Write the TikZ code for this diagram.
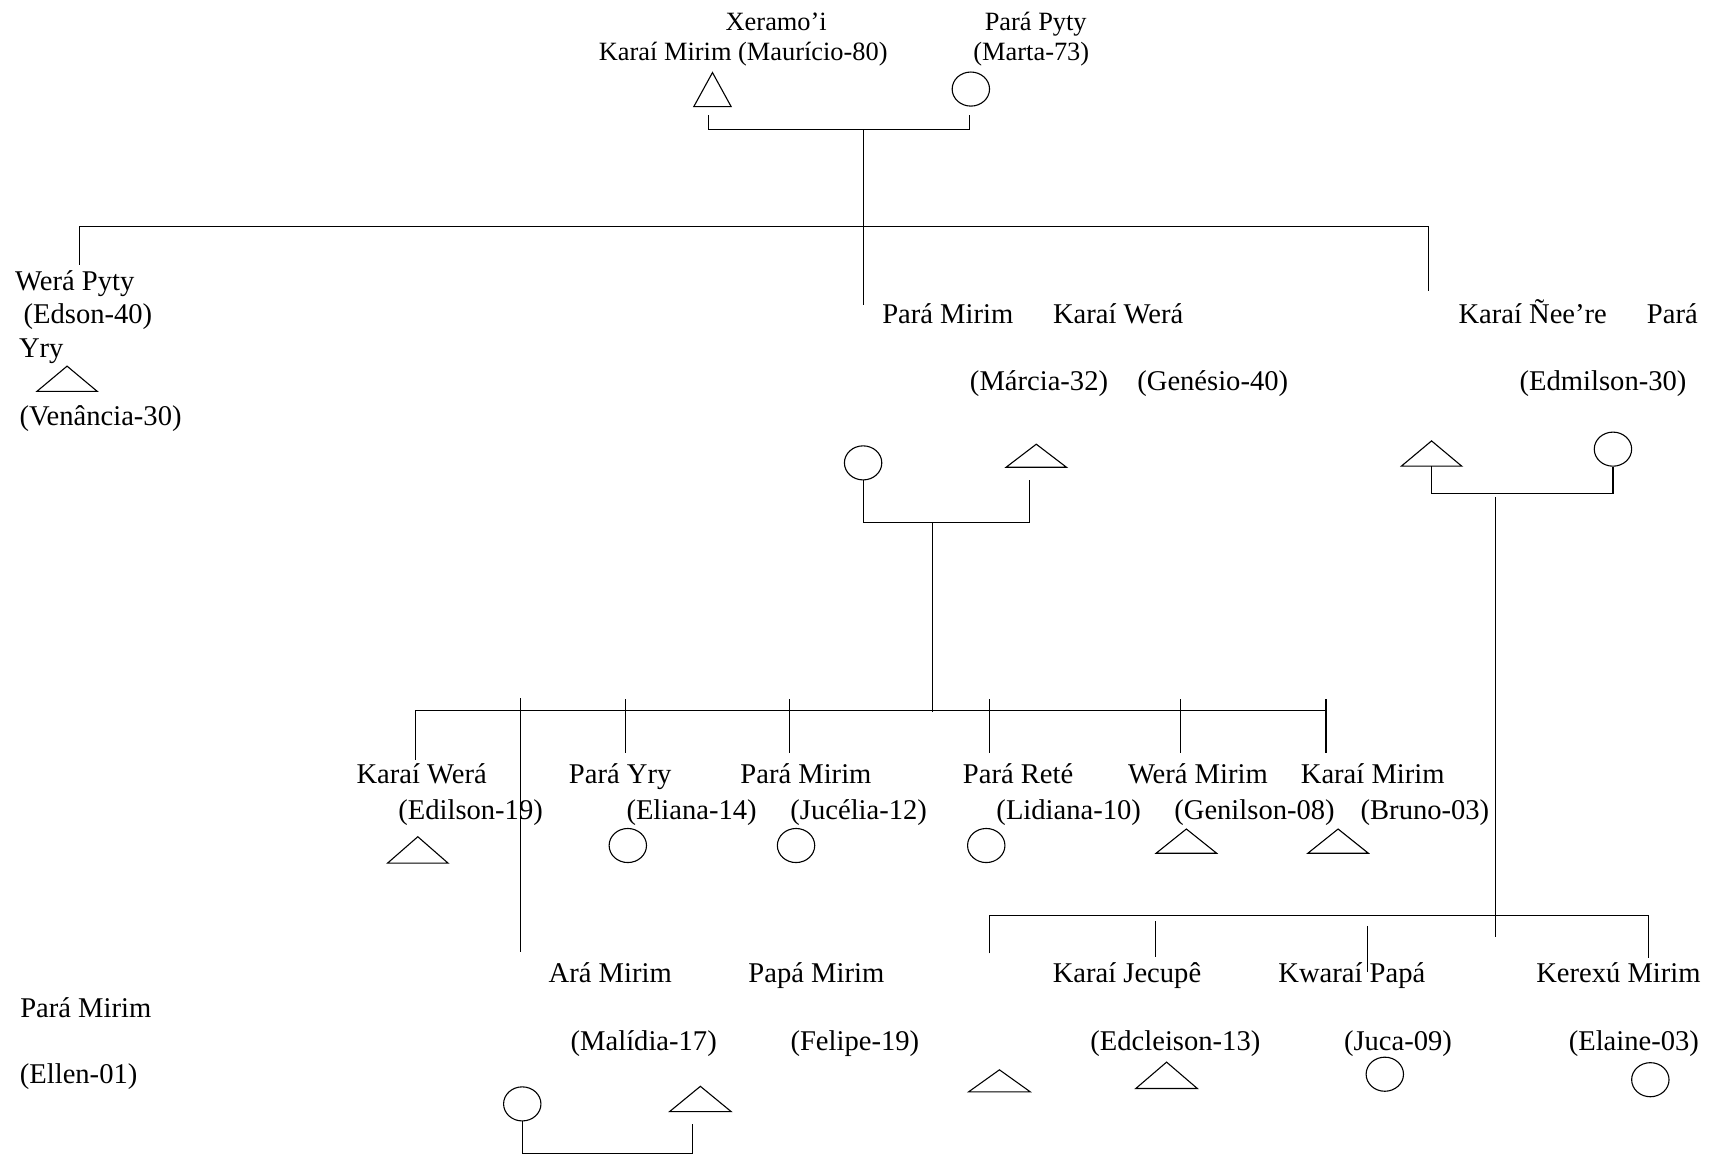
\documentclass[tikz,border=0pt]{standalone}
\usepackage{fontspec}
\setmainfont{Liberation Serif}
\usetikzlibrary{shapes.geometric,calc}
\newcommand\kintri[5]{%
  \node[inner sep=0pt, outer sep=0pt, minimum width=#4pt, minimum height=#5pt, anchor=south] (#1) at (#2,#3) {};
  \draw[line join=miter] (#1.south west) -- (#1.north) -- (#1.south east) -- cycle;}
\begin{document}
\begin{tikzpicture}[x=1pt,y=-1pt, line width=1pt,
  lbl/.style={anchor=base, inner sep=0pt, font=\fontsize{26pt}{30pt}\selectfont},
  lbltop/.style={anchor=base, inner sep=0pt, font=\fontsize{24pt}{28pt}\selectfont},
  fem/.style={draw, ellipse, inner sep=0pt, minimum width=34pt, minimum height=31pt}]
\useasboundingbox (0,0) rectangle (1568,1050);

% ---------- generation 1 ----------
\node[lbltop] (xer) at (706,28) {Xeramo’i};
\node[lbltop] (km) at (676,55) {Karaí Mirim (Maurício-80)};
\node[lbltop] (pp) at (942,28) {Pará Pyty};
\node[lbltop] (marta) at (938,55) {(Marta-73)};
\kintri{gf}{648}{97}{34}{31}
\node[fem] (gm) at (883,81) {};
\coordinate (gfb) at (644,105);
\coordinate (gmb) at (882,105);
\coordinate (j0) at (785,118);
\coordinate (d0) at (785,277);
\draw (gfb) |- (j0) -| (gmb);
\draw (j0) -- (d0);
\coordinate (s0a) at (72,241);
\coordinate (s0m) at (785,206);
\coordinate (s0b) at (1299,265);
\draw (s0a) |- (s0m) -| (s0b);

% ---------- left: Wera Pyty ----------
\node[lbl] (wp) at (68,264) {Werá Pyty};
\node[lbl] (edson) at (80,294) {(Edson-40)};
\node[lbl] (yry) at (37.5,325) {Yry};
\kintri{ven}{61}{356}{55}{23}
\node[lbl] (venancia) at (91.5,387) {(Venância-30)};

% ---------- middle: Para Mirim & Karai Wera ----------
\node[lbl] (pmn) at (862,294) {Pará Mirim};
\node[lbl] (kwn) at (1017,294) {Karaí Werá};
\node[lbl] (marcia) at (945,355) {(Márcia-32)};
\node[lbl] (genesio) at (1103,355) {(Genésio-40)};
\node[fem] (pm) at (785,421) {};
\kintri{kw}{942.5}{425}{55}{21}
\coordinate (kwb) at (936,437);
\coordinate (j1) at (848,475);
\coordinate (s1m) at (848,648);
\draw (pm.south) |- (j1) -| (kwb);
\draw (j1) -- (s1m);

% ---------- right: Karai Nee're & Para ----------
\node[lbl] (kne) at (1394,294) {Karaí Ñee’re};
\node[lbl] (parn) at (1521,294) {Pará};
\node[lbl] (edmilson) at (1458,355) {(Edmilson-30)};
\kintri{rt}{1302}{424}{55}{23}
\node[fem] (rc) at (1467,408.5) {};
\coordinate (j2) at (1381,449);
\coordinate (j2d) at (1360,452);
\coordinate (s2m) at (1360,852);
\draw (rt.south) |- (j2) -| (rc.south);
\draw (j2d) -- (s2m);

% ---------- generation 3: children of Para Mirim ----------
\coordinate (r3a) at (378,691);
\coordinate (r3b) at (1206,646);
\draw (r3a) |- (r3b);
\coordinate (ara1) at (473,635); \coordinate (ara2) at (473,866);
\draw (ara1) -- (ara2);
\coordinate (t1a) at (569,636);  \coordinate (t1b) at (569,685);
\coordinate (t2a) at (718,636);  \coordinate (t2b) at (718,685);
\coordinate (t3a) at (900,636);  \coordinate (t3b) at (900,685);
\coordinate (t4a) at (1074,636); \coordinate (t4b) at (1074,685);
\coordinate (t5a) at (1206,636); \coordinate (t5b) at (1206,685);
\draw (t1a) -- (t1b);
\draw (t2a) -- (t2b);
\draw (t3a) -- (t3b);
\draw (t4a) -- (t4b);
\draw (t5a) -- (t5b);

\node[lbl] (kw3) at (383.5,713) {Karaí Werá};
\node[lbl] (edilson) at (428,745) {(Edilson-19)};
\node[lbl] (pyry) at (564,713) {Pará Yry};
\node[lbl] (eliana) at (629,745) {(Eliana-14)};
\node[lbl] (pm3) at (733,713) {Pará Mirim};
\node[lbl] (jucelia) at (781,745) {(Jucélia-12)};
\node[lbl] (prete) at (926,713) {Pará Reté};
\node[lbl] (lidiana) at (972,745) {(Lidiana-10)};
\node[lbl] (wm3) at (1089.5,713) {Werá Mirim};
\node[lbl] (genilson) at (1141,745) {(Genilson-08)};
\node[lbl] (km3) at (1248.5,713) {Karaí Mirim};
\node[lbl] (bruno) at (1296,745) {(Bruno-03)};

\kintri{edil}{380}{785}{55}{24}
\node[fem] (eli) at (571,769) {};
\node[fem] (juc) at (724,769) {};
\node[fem] (lid) at (897,769) {};
\kintri{gen}{1079}{776}{55}{22}
\kintri{bru}{1217}{776}{55}{22}

% ---------- generation 3: children of Karai Nee're ----------
\coordinate (r4a) at (900,867);
\coordinate (r4m) at (1360,833);
\coordinate (r4b) at (1499,871);
\draw (r4a) |- (r4m) -| (r4b);
\coordinate (u1a) at (1051,838); \coordinate (u1b) at (1051,870);
\coordinate (u2a) at (1244,842); \coordinate (u2b) at (1244,884);
\draw (u1a) -- (u1b);
\draw (u2a) -- (u2b);

\node[lbl] (kj) at (1025,894) {Karaí Jecupê};
\node[lbl] (kp) at (1229.5,894) {Kwaraí Papá};
\node[lbl] (kx) at (1472,894) {Kerexú Mirim};
\node[lbl] (edcleison) at (1069,955) {(Edcleison-13)};
\node[lbl] (juca) at (1271.5,955) {(Juca-09)};
\node[lbl] (elaine) at (1486,955) {(Elaine-03)};
\kintri{un}{909}{993}{56}{20}
\kintri{edc}{1061}{990}{56}{24}
\node[fem] (juc9) at (1259.5,977) {};
\node[fem] (ela) at (1501,982) {};

% ---------- Ara Mirim & Papa Mirim ----------
\node[lbl] (aram) at (555,894) {Ará Mirim};
\node[lbl] (papam) at (742.5,894) {Papá Mirim};
\node[lbl] (malidia) at (585.5,955) {(Malídia-17)};
\node[lbl] (felipe) at (777.5,955) {(Felipe-19)};
\node[lbl] (pme) at (78,925) {Pará Mirim};
\node[lbl] (ellen) at (71.5,985) {(Ellen-01)};
\node[fem] (mal) at (475,1004) {};
\kintri{fel}{637}{1011}{56}{23}
\coordinate (j3) at (552,1049);
\coordinate (felb) at (630,1022);
\draw (mal.south) |- (j3) -| (felb);
\end{tikzpicture}
\end{document}
